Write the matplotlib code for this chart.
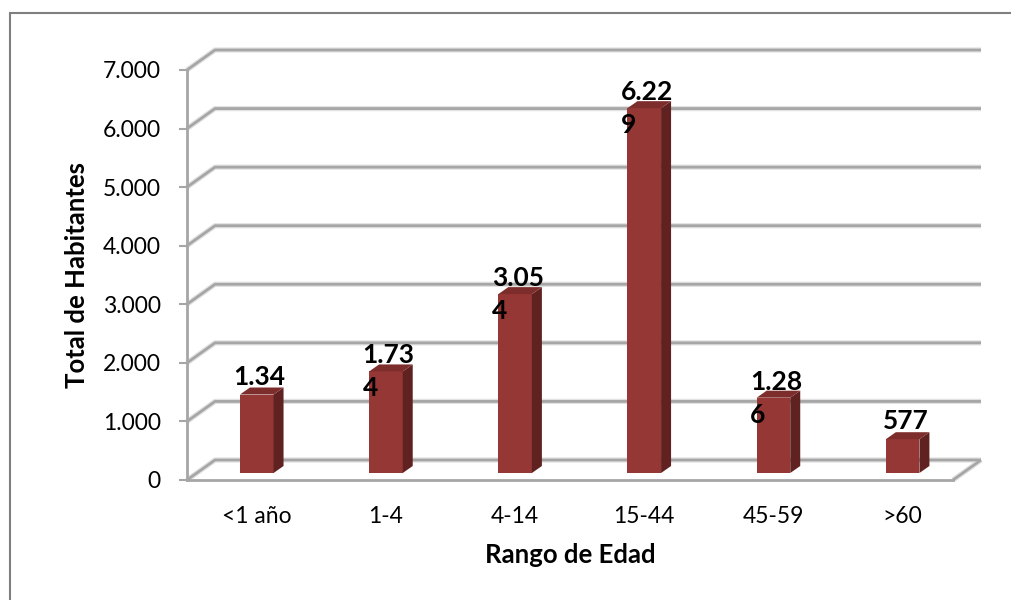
import matplotlib
matplotlib.use("Agg")
import matplotlib.pyplot as plt
from matplotlib.patches import Polygon, Rectangle
import numpy as np

plt.rcParams['font.family'] = ['Lato', 'DejaVu Sans']

# data
categories = ['<1 año', '1-4', '4-14', '15-44', '45-59', '>60']
habitantes = [1340, 1734, 3054, 6229, 1286, 577]
# the data labels are wrapped in the original chart
bar_labels = ['1.34', '1.73\n4', '3.05\n4', '6.22\n9', '1.28\n6', '577']
y_ticks = [0, 1000, 2000, 3000, 4000, 5000, 6000, 7000]
y_tick_labels = ['0', '1.000', '2.000', '3.000', '4.000', '5.000', '6.000', '7.000']

front_color = '#953735'
side_color = '#5f2220'
top_color = '#7d2e2c'
grid_color = '#a6a6a6'

W, H = 1011, 600
fig = plt.figure(figsize=(W / 100, H / 100), dpi=100)
# front plane of the 3d box, in pixels
ax = fig.add_axes([187 / W, (H - 480) / H, (953 - 187) / W, 410 / H])
ax.set_xlim(-0.54, 5.39)
ax.set_ylim(0, 7000)

# pixel size of one data unit, used for the fake depth
p0 = ax.transData.transform((0, 0))
p1 = ax.transData.transform((1, 1000))
ux = p1[0] - p0[0]
uy = (p1[1] - p0[1]) / 1000.0
wall_dx, wall_dy = 28 / ux, 20 / uy
lift = 7 / uy
side_dx, side_dy = 10 / ux, 7 / uy

x0, x1 = ax.get_xlim()


def grid_line(xs, ys):
    # soft shadow under the line, like the excel 3d grid
    ax.plot(xs, ys, color='#e2e2e2', lw=3.8, clip_on=False, zorder=1, solid_capstyle='butt')
    ax.plot(xs, ys, color=grid_color, lw=2.0, clip_on=False, zorder=1.1, solid_capstyle='butt')


# back wall grid lines + left wall diagonals
for t in y_ticks:
    grid_line([x0, x0 + wall_dx, x1 + wall_dx], [t, t + wall_dy, t + wall_dy])
# floor right edge
grid_line([x1, x1 + wall_dx], [0, wall_dy])

x = np.arange(len(categories))
bw = 0.26
ax.bar(x, habitantes, width=bw, bottom=lift, color=front_color, zorder=3)

for xi, v in zip(x, habitantes):
    r = xi + bw / 2
    l = xi - bw / 2
    top = v + lift
    side = Polygon([(r, lift), (r + side_dx, lift + side_dy), (r + side_dx, top + side_dy), (r, top)],
                   closed=True, facecolor=side_color, edgecolor='none', zorder=3)
    lid = Polygon([(l, top), (l + side_dx, top + side_dy), (r + side_dx, top + side_dy), (r, top)],
                  closed=True, facecolor=top_color, edgecolor='none', zorder=3)
    ax.add_patch(side)
    ax.add_patch(lid)

# baseline of the first label line sits ~10 px over the bar; va='baseline' uses the last line
line_gap = 25.0  # points between wrapped lines
for xi, v, lab in zip(x, habitantes, bar_labels):
    n_extra = lab.count('\n')
    ax.annotate(lab, (xi, v + lift), xytext=(2, 7 - n_extra * line_gap), textcoords='offset points',
                ha='center', va='baseline', multialignment='left', linespacing=1.45,
                fontsize=19, fontweight='bold', color='black', zorder=5, annotation_clip=False)

for s in ['top', 'right']:
    ax.spines[s].set_visible(False)
ax.spines['left'].set_color(grid_color)
ax.spines['left'].set_linewidth(2)
ax.spines['bottom'].set_color(grid_color)
ax.spines['bottom'].set_linewidth(2.0)

ax.set_yticks(y_ticks)
ax.set_yticklabels(y_tick_labels)
ax.set_xticks(x)
ax.set_xticklabels(categories)
ax.tick_params(axis='y', length=6, width=1.5, color=grid_color, pad=13, labelsize=16.5)
ax.tick_params(axis='x', length=0, pad=19, labelsize=16.5)
ax.patch.set_alpha(0)

ax.set_ylabel('Total de Habitantes', fontsize=18.5, fontweight='bold', labelpad=10)
ax.set_xlabel('Rango de Edad', fontsize=18.5, fontweight='bold', labelpad=11)

# chart border
fig.patches.append(Rectangle((10 / W, -0.1), 1.2, (H - 13) / H + 0.1, transform=fig.transFigure,
                             fill=False, edgecolor='#7f7f7f', lw=1.5))

fig.savefig('out.png', dpi=100)
